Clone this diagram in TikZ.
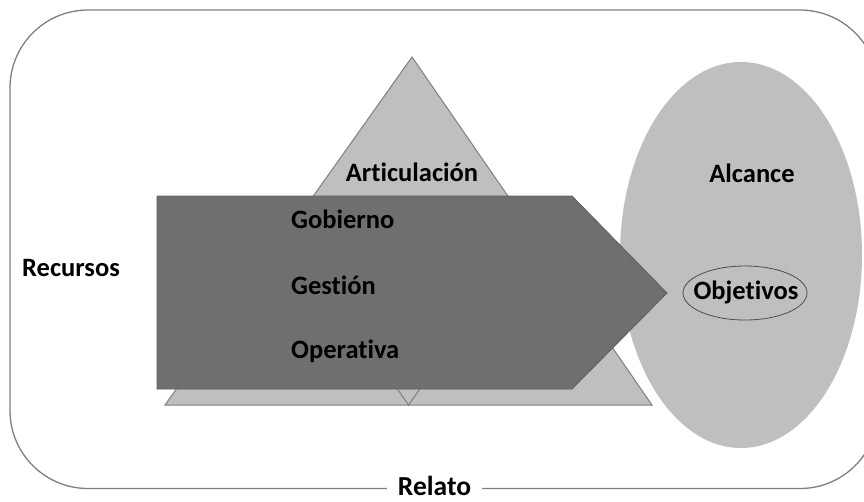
\documentclass[tikz,border=0pt]{standalone}
\usepackage{fontspec}
\setmainfont{Carlito}[RawFeature={-liga;-dlig;-clig}]
\usetikzlibrary{shapes.geometric}
\definecolor{lightg}{HTML}{BFBFBF}
\definecolor{darkg}{HTML}{6F6F6F}
\definecolor{edgeg}{HTML}{7F7F7F}
\begin{document}
\begin{tikzpicture}[x=1pt,y=-1pt,
  lbl/.style={font=\fontsize{26.5}{30}\selectfont\bfseries, text=black, inner sep=0pt},
  frame/.style={draw=edgeg, line width=1.3pt, rounded corners=78pt},
  tri/.style={fill=lightg, draw=edgeg, line width=1pt, line join=miter},
  chev/.style={fill=darkg, draw=darkg!85!black, line width=0.8pt},
  oval/.style={fill=lightg, draw=black!70, line width=0.8pt}]
\useasboundingbox (0,0) rectangle (864,501);
\clip (0,0) rectangle (864,501);
% outer frame
\draw[frame] (10,10) rectangle (878,488.5);
% Alcance ellipse
\fill[lightg] (741,255) ellipse [x radius=121pt, y radius=193pt];
% triangle
\draw[tri] (165,405) -- (412,57) -- (652,405) -- cycle;
\draw[edgeg, line width=1pt] (288.5,231) -- (408.5,405) -- (532,231);
% chevron arrow
\draw[chev] (157,196) -- (572,196) -- (667,293) -- (572,389) -- (157,389) -- cycle;
% Objetivos
\draw[oval] (745,293) ellipse [x radius=62pt, y radius=27pt];
\node[lbl] (obj) at (746,292) {Objetivos};
% labels
\node[lbl] (art) at (412,172) {Articulación};
\node[lbl] (alc) at (752,173) {Alcance};
\node[lbl, anchor=west] (gob) at (291,219) {Gobierno};
\node[lbl, anchor=west] (ges) at (291,285) {Gestión};
\node[lbl, anchor=west] (ope) at (291,351) {Operativa};
\node[lbl, anchor=west] (rec) at (22,268) {Recursos};
\node[lbl, font=\fontsize{27.5}{30}\selectfont\bfseries, fill=white, inner xsep=11pt, inner ysep=1pt, anchor=base] (rel) at (434.5,495.5) {Relato};
\end{tikzpicture}
\end{document}
